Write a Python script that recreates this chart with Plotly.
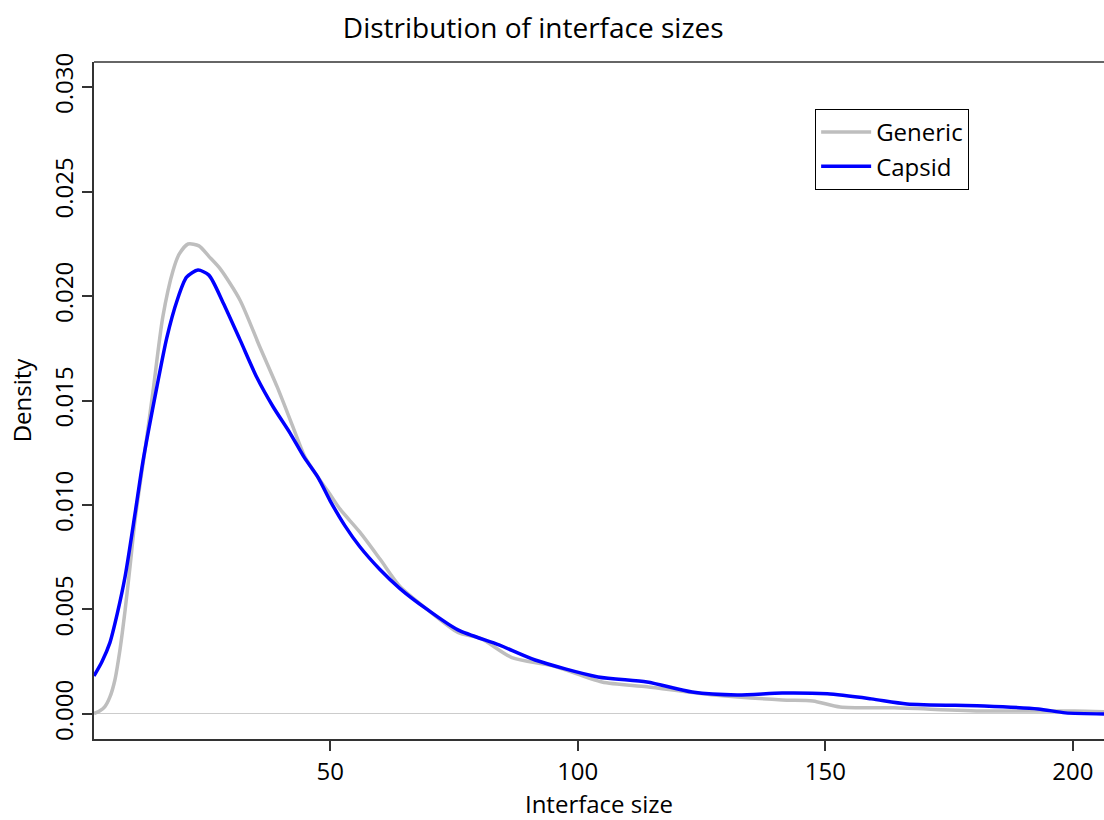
import plotly.graph_objects as go

# Interface size (x) and density (y)
generic_x = [2.3, 3.5, 4.5, 5.5, 6.5, 7.5, 8.6, 9.6, 10.6, 12.6, 14.2, 16.2, 18.3, 19.5,
             21.3, 23.5, 25.5, 27.8, 31.8, 35.8, 39.3, 42.5, 44.9, 47.6, 50.0, 52.0,
             56.0, 60.1, 64.1, 69.6, 75.8, 80.5, 86.7, 95.0, 104.9, 114.0, 127.5,
             141.3, 147.5, 153.0, 163.9, 182.1, 200.3, 206.3]
generic_y = [0.00002, 0.00015, 0.00035, 0.00080, 0.0016, 0.0030, 0.0050, 0.0071, 0.0093,
             0.01263, 0.01541, 0.0190, 0.02124, 0.0220, 0.02249, 0.0224, 0.0219, 0.0213,
             0.0198, 0.01756, 0.01565, 0.01373, 0.0123, 0.0113, 0.0105, 0.0098, 0.0087,
             0.0074, 0.0061, 0.0050, 0.0039, 0.0036, 0.0027, 0.0023, 0.00153, 0.0013,
             0.00091, 0.00067, 0.00062, 0.00033, 0.00029, 0.00014, 0.00014, 0.0001]

capsid_x = [2.3, 3.9, 5.5, 7.0, 8.6, 10.6, 12.2, 15.0, 17.0, 19.1, 21.0, 23.3, 25.5, 28.4,
            31.8, 35.2, 38.5, 41.9, 44.7, 47.6, 50.0, 53.0, 56.0, 60.1, 64.1, 69.6, 75.8,
            84.1, 91.4, 104.1, 114.0, 123.1, 132.2, 141.3, 150.4, 159.3, 166.5, 182.1,
            193.0, 198.5, 206.3]
capsid_y = [0.00182, 0.0025, 0.0034, 0.0048, 0.0066, 0.0096, 0.0121, 0.01565, 0.0180,
            0.0198, 0.0209, 0.02124, 0.0210, 0.01967, 0.0179, 0.0161, 0.01469, 0.01344,
            0.0123, 0.0113, 0.0102, 0.0090, 0.0080, 0.0069, 0.0060, 0.0050, 0.00402,
            0.0033, 0.00258, 0.00177, 0.00153, 0.00105, 0.00091, 0.00100, 0.00096,
            0.00072, 0.00048, 0.00038, 0.00024, 0.00005, 0.0]

x_ticks = [50, 100, 150, 200]
y_ticks = [0.000, 0.005, 0.010, 0.015, 0.020, 0.025, 0.030]
y_tick_text = ["0.000", "0.005", "0.010", "0.015", "0.020", "0.025", "0.030"]

FONT = "Open Sans"

fig = go.Figure()
fig.add_trace(go.Scatter(x=generic_x, y=generic_y, mode="lines", name="Generic",
                         line=dict(color="#BEBEBE", width=3.5, shape="spline", smoothing=0.7)))
fig.add_trace(go.Scatter(x=capsid_x, y=capsid_y, mode="lines", name="Capsid",
                         line=dict(color="#0000FF", width=3.5, shape="spline", smoothing=0.7)))

fig.update_layout(
    width=1104, height=820,
    margin=dict(l=94, r=0, t=62, b=81),
    paper_bgcolor="white", plot_bgcolor="white",
    font=dict(family=FONT, size=24, color="black"),
    title=dict(text="Distribution of interface sizes", x=0.483, xref="container",
               xanchor="center", y=0.966, yref="container", yanchor="middle",
               font=dict(family=FONT, size=28, color="black")),
    showlegend=True,
    legend=dict(x=0.714, y=0.9306, xanchor="left", yanchor="top",
                bordercolor="black", borderwidth=1, bgcolor="white",
                font=dict(family=FONT, size=24, color="black"),
                itemwidth=50, tracegroupgap=0),
)
fig.update_xaxes(
    range=[2.3, 206.3], tickmode="array", tickvals=x_ticks,
    ticks="outside", ticklen=10, tickwidth=1.5, tickcolor="#333333",
    showline=True, linecolor="#333333", linewidth=1.5, mirror=False,
    showgrid=False, zeroline=False,
    tickfont=dict(family=FONT, size=24, color="black"),
    title=dict(text="Interface size", standoff=16, font=dict(family=FONT, size=24, color="black")),
)
fig.update_yaxes(
    range=[-0.0012, 0.0312], tickmode="array", tickvals=y_ticks, ticktext=y_tick_text,
    ticks="outside", ticklen=10, tickwidth=1.5, tickcolor="#333333", tickangle=-90,
    showline=True, linecolor="#333333", linewidth=1.5,
    showgrid=False, zeroline=True, zerolinecolor="#CCCCCC", zerolinewidth=1,
    tickfont=dict(family=FONT, size=24, color="black"),
    title=dict(text="Density", standoff=8, font=dict(family=FONT, size=24, color="black")),
)
# top border of the box
fig.add_shape(type="line", xref="paper", yref="paper", x0=0, x1=1, y0=1, y1=1,
              line=dict(color="#333333", width=1.5))

fig.write_html("out.html")
